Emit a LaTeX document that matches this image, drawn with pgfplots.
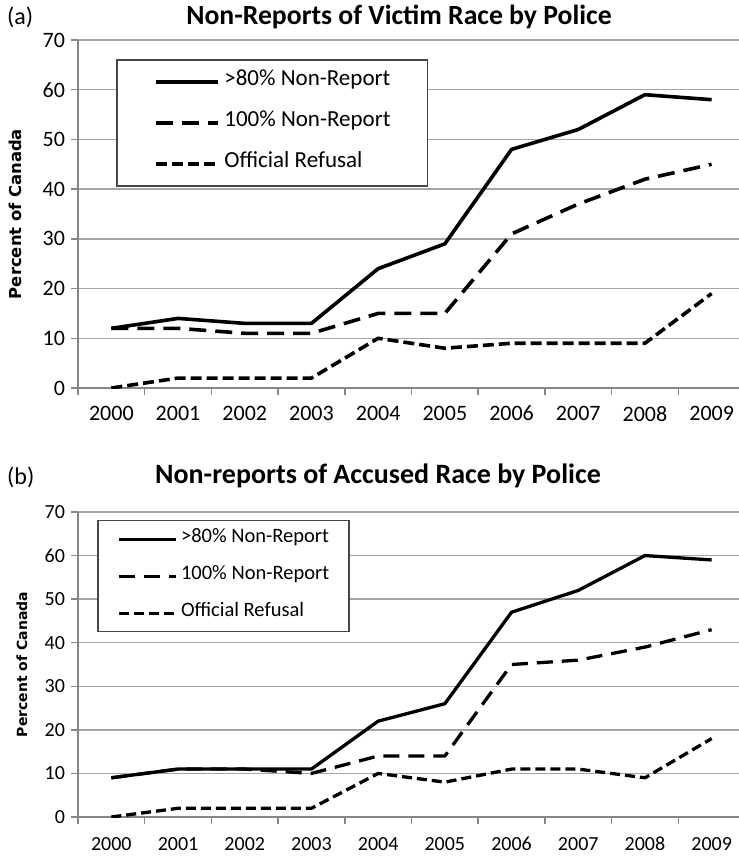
\documentclass[border=0pt]{standalone}
\usepackage{fontspec}
\setmainfont{Carlito}
\newfontfamily\labelfont{DejaVu Sans}
\usepackage{pgfplots}
\usepackage{pgfplotstable}
\pgfplotsset{compat=1.18}
\definecolor{gridgray}{RGB}{165,165,165}
\definecolor{axgray}{RGB}{134,134,134}
\definecolor{boxgray}{RGB}{70,70,70}

\pgfplotstableread{
x s h o
0 12 12 0
1 14 12 2
2 13 11 2
3 13 11 2
4 24 15 10
5 29 15 8
6 48 31 9
7 52 37 9
8 59 42 9
9 58 45 19
}\topdata

\pgfplotstableread{
x s h o
0 9 9 0
1 11 11 2
2 11 11 2
3 11 10 2
4 22 14 10
5 26 14 8
6 47 35 11
7 52 36 11
8 60 39 9
9 59 43 18
}\botdata

\pgfplotsset{
  mychart/.style={
    scale only axis, width=667bp,
    xmin=-0.5, xmax=9.5, ymin=0, ymax=70,
    axis lines*=left,
    axis line style={draw=axgray, line width=1.5bp},
    tick style={draw=axgray, line width=1.5bp},
    tick align=outside,
    major tick length=6.5bp,
    ytick={0,10,...,70},
    ymajorgrids,
    major grid style={draw=gridgray, line width=1.5bp},
    xtick={-0.5,0.5,1.5,2.5,3.5,4.5,5.5,6.5,7.5,8.5,9.5},
    xticklabels={2000,2001,2002,2003,2004,2005,2006,2007,2008,2009},
    x tick label as interval,
    /pgf/number format/assume math mode=true,
    legend cell align=left,
    legend image code/.code={\draw[##1] (0bp,0bp) -- (62bp,0bp);},
    s/.style={black, line width=3.6bp, line join=round},
    h/.style={black, line width=3.6bp, line join=round, dash pattern=on 17bp off 9bp},
    o/.style={black, line width=3.6bp, line join=round, dash pattern=on 11bp off 5bp},
  }
}

\begin{document}
\begin{tikzpicture}
\useasboundingbox (0,0) rectangle (739bp,-856bp);

% ---------- (a) ----------
\node[anchor=west, inner sep=0pt, font=\fontsize{24bp}{28bp}\selectfont] at (7bp,-17bp) {(a)};
\node[font=\bfseries\fontsize{27.7bp}{32bp}\selectfont] at (399bp,-17bp) {Non-Reports of Victim Race by Police};
\begin{axis}[mychart,
  at={(78bp,-388bp)}, anchor=south west, height=348bp,
  ticklabel style={font=\fontsize{22bp}{26bp}\selectfont},
  xticklabel style={yshift=-8bp},
  yticklabel style={xshift=-3bp},
  ylabel={Percent of Canada},
  ylabel style={at={(axis description cs:-0.0945,0.5)}, anchor=center,
                font=\labelfont\bfseries\fontsize{16.4bp}{19bp}\selectfont},
  legend style={at={(axis description cs:0.057,0.9454)}, anchor=north west,
    draw=boxgray, line width=1.5bp, inner xsep=37bp, inner ysep=12bp,
    row sep=21bp, column sep=5bp,
    font=\fontsize{23bp}{26bp}\selectfont,
    nodes={inner sep=0pt, text height=14bp, text depth=6bp}},
]
\addplot[s] table[x=x,y=s] {\topdata};
\addplot[h] table[x=x,y=h] {\topdata};
\addplot[o] table[x=x,y=o] {\topdata};
\legend{>80\% Non-Report, 100\% Non-Report, Official Refusal}
\end{axis}

% ---------- (b) ----------
\node[anchor=west, inner sep=0pt, font=\fontsize{24bp}{28bp}\selectfont] at (7bp,-477bp) {(b)};
\node[font=\bfseries\fontsize{28bp}{32bp}\selectfont] at (378bp,-476bp) {Non-reports of Accused Race by Police};
\begin{axis}[mychart,
  at={(78bp,-817bp)}, anchor=south west, height=305bp,
  ticklabel style={font=\fontsize{20bp}{23bp}\selectfont},
  xticklabel style={yshift=-10bp},
  yticklabel style={xshift=-3bp},
  ylabel={Percent of Canada},
  ylabel style={at={(axis description cs:-0.084,0.5)}, anchor=center,
                font=\labelfont\bfseries\fontsize{14bp}{17bp}\selectfont},
  legend style={at={(axis description cs:0.0285,0.9738)}, anchor=north west,
    draw=boxgray, line width=1.5bp, inner xsep=20bp, inner ysep=10bp,
    row sep=20bp, column sep=3bp,
    font=\fontsize{20.5bp}{23bp}\selectfont,
    nodes={inner sep=0pt, text height=12bp, text depth=5bp}},
  legend image code/.code={\draw[#1] (0bp,0bp) -- (57bp,0bp);},
  s/.style={black, line width=3.3bp, line join=round},
  h/.style={black, line width=3.3bp, line join=round, dash pattern=on 16bp off 9bp},
  o/.style={black, line width=3.3bp, line join=round, dash pattern=on 10bp off 5bp},
]
\addplot[s] table[x=x,y=s] {\botdata};
\addplot[h] table[x=x,y=h] {\botdata};
\addplot[o] table[x=x,y=o] {\botdata};
\legend{>80\% Non-Report, 100\% Non-Report, Official Refusal}
\end{axis}
\end{tikzpicture}
\end{document}
